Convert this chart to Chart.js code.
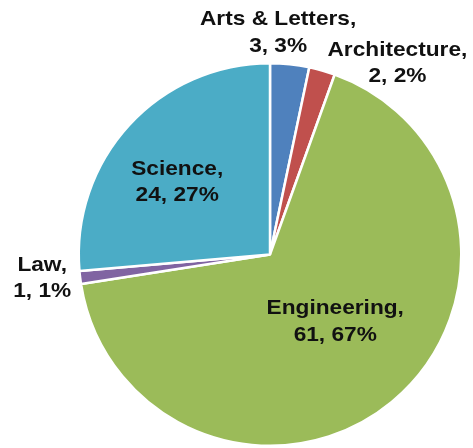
<!DOCTYPE html>
<html>
<head>
<meta charset="utf-8">
<script src="https://cdn.jsdelivr.net/npm/chart.js@4/dist/chart.umd.min.js"></script>
<style>
  html, body { margin: 0; padding: 0; background: #fff; }
  #wrap { width: 473px; height: 448px; }
</style>
</head>
<body>
<div id="wrap"><canvas id="pie"></canvas></div>
<script>
// Students by college
const colleges = ['Arts & Letters', 'Architecture', 'Engineering', 'Law', 'Science'];
const students = [3, 2, 61, 1, 24];
const percents = [3, 2, 67, 1, 27];
const sliceColors = ['#4F81BD', '#C0504D', '#9BBB59', '#8064A2', '#4BACC6'];

// where each label sits: radius fraction along the slice middle, plus a nudge
const labelSpots = [
    { r: 1.17, dx: -15, dy: 1 },
    { r: 1.12, dx: 69, dy: 15 },
    { r: 0.47, dx: 8, dy: -2 },
    { r: 1.2, dx: 0, dy: -4 },
    { r: 0.63, dx: -4, dy: 9 }
];

// Draw "Name, value, pct%" labels on two lines
const sliceLabels = {
    id: 'sliceLabels',
    afterDatasetsDraw(chart) {
        const ctx = chart.ctx;
        const arcs = chart.getDatasetMeta(0).data;
        const lineGap = 13.25;
        arcs.forEach((arc, i) => {
            const p = arc.getProps(['x', 'y', 'startAngle', 'endAngle', 'outerRadius'], true);
            const mid = (p.startAngle + p.endAngle) / 2;
            const spot = labelSpots[i];
            const x = p.x + Math.cos(mid) * p.outerRadius * spot.r + spot.dx;
            const y = p.y + Math.sin(mid) * p.outerRadius * spot.r + spot.dy;
            ctx.save();
            ctx.translate(x, y);
            ctx.scale(1.08, 1); // labels run a little wide
            ctx.font = 'bold 21px "Liberation Sans", Arial, sans-serif';
            ctx.fillStyle = '#111';
            ctx.textAlign = 'center';
            ctx.textBaseline = 'middle';
            ctx.fillText(colleges[i] + ',', 0, -lineGap);
            ctx.fillText(students[i] + ', ' + percents[i] + '%', 0, lineGap);
            ctx.restore();
        });
    }
};

const pieChart = new Chart(document.getElementById('pie'), {
    type: 'pie',
    data: {
        labels: colleges,
        datasets: [{
            data: students,
            backgroundColor: sliceColors,
            borderColor: '#fff',
            borderWidth: 2.5
        }]
    },
    options: {
        responsive: true,
        maintainAspectRatio: false,
        animation: false,
        layout: { padding: { left: 77, right: 10, top: 62, bottom: 1 } },
        plugins: {
            legend: { display: false },
            tooltip: { enabled: false }
        }
    },
    plugins: [sliceLabels]
});
</script>
</body>
</html>
